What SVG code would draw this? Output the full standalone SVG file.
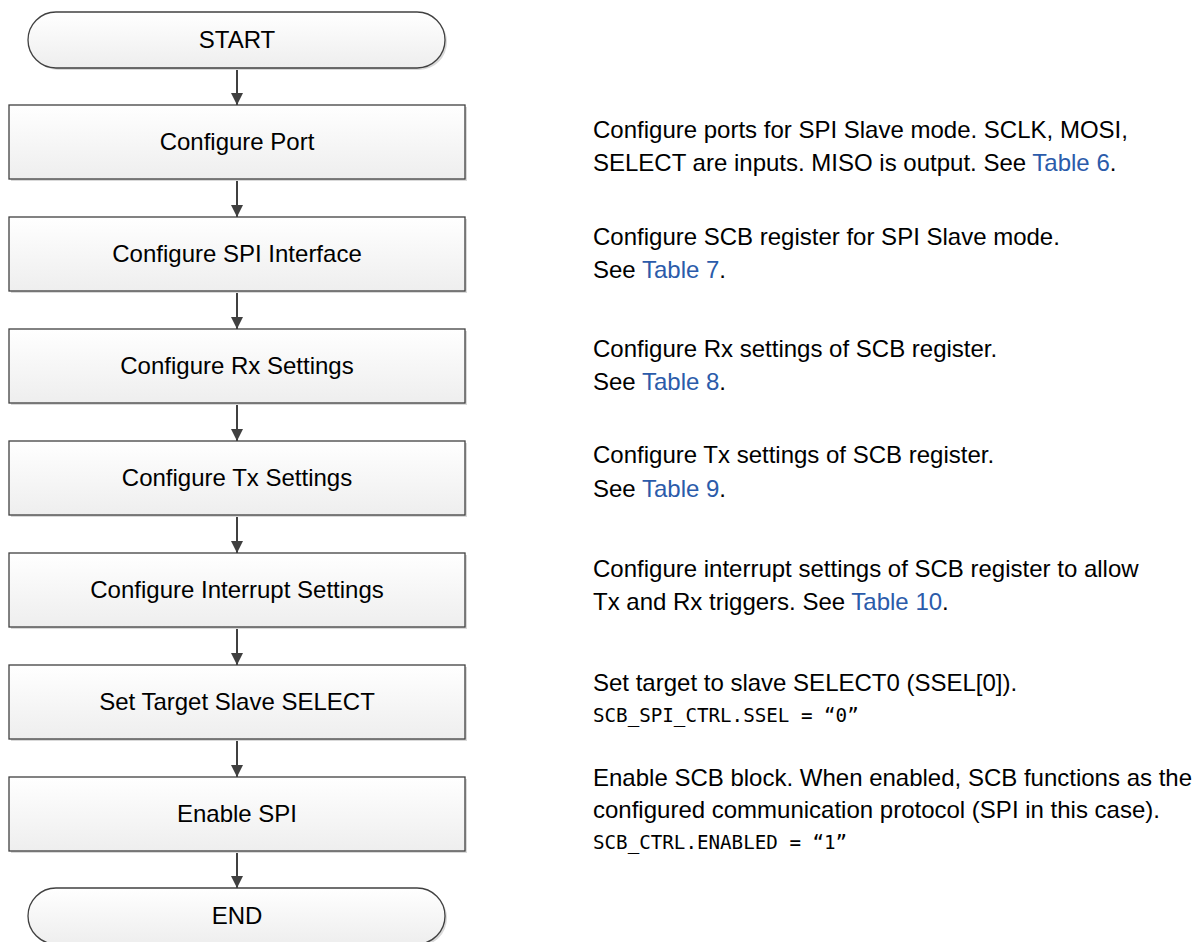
<svg xmlns="http://www.w3.org/2000/svg" width="1197" height="942" viewBox="0 0 1197 942">
  <style>
    .box { fill: url(#boxFill); stroke: #404040; stroke-width: 1.3; }
    .shadow { fill: #d9d9d9; }
    .label { font-family: "Liberation Sans", Arial, sans-serif; font-size: 24px; fill: #000; text-anchor: middle; }
    .note { font-family: "Liberation Sans", Arial, sans-serif; font-size: 24px; fill: #000; }
    .code { font-family: "DejaVu Sans Mono", monospace; font-size: 19.2px; fill: #000; }
    .link { fill: #2B5BAA; }
    .conn { stroke: #404040; stroke-width: 2; fill: none; marker-end: url(#arrow); }
  </style>
  <defs>
    <linearGradient id="boxFill" x1="0" y1="0" x2="0" y2="1">
      <stop offset="0" stop-color="#ffffff"/>
      <stop offset="1" stop-color="#eeeeee"/>
    </linearGradient>
    <marker id="arrow" markerWidth="12" markerHeight="12" refX="10" refY="5" orient="auto" markerUnits="userSpaceOnUse" viewBox="0 0 10 10">
      <path d="M0,0 L10,5 L0,10 Z" fill="#404040"/>
    </marker>
  </defs>
  <rect width="1197" height="942" fill="#ffffff"/>

  <!-- connectors -->
  <g id="connectors">
    <line class="conn" x1="237" y1="68" x2="237" y2="105"/>
    <line class="conn" x1="237" y1="179" x2="237" y2="217"/>
    <line class="conn" x1="237" y1="291" x2="237" y2="329"/>
    <line class="conn" x1="237" y1="403" x2="237" y2="441"/>
    <line class="conn" x1="237" y1="515" x2="237" y2="553"/>
    <line class="conn" x1="237" y1="627" x2="237" y2="665"/>
    <line class="conn" x1="237" y1="739" x2="237" y2="777"/>
    <line class="conn" x1="237" y1="851" x2="237" y2="888"/>
  </g>

  <g id="start">
    <rect class="shadow" x="30" y="14" width="417" height="56" rx="28"/>
    <rect class="box" x="28" y="12" width="417" height="56" rx="28"/>
    <text class="label" x="237" y="48">START</text>
  </g>

  <g id="configure-port">
    <rect class="shadow" x="11" y="107" width="456" height="74"/>
    <rect class="box" x="9" y="105" width="456" height="74"/>
    <text class="label" x="237" y="150">Configure Port</text>
  </g>

  <g id="configure-spi">
    <rect class="shadow" x="11" y="219" width="456" height="74"/>
    <rect class="box" x="9" y="217" width="456" height="74"/>
    <text class="label" x="237" y="262">Configure SPI Interface</text>
  </g>

  <g id="configure-rx">
    <rect class="shadow" x="11" y="331" width="456" height="74"/>
    <rect class="box" x="9" y="329" width="456" height="74"/>
    <text class="label" x="237" y="374">Configure Rx Settings</text>
  </g>

  <g id="configure-tx">
    <rect class="shadow" x="11" y="443" width="456" height="74"/>
    <rect class="box" x="9" y="441" width="456" height="74"/>
    <text class="label" x="237" y="486">Configure Tx Settings</text>
  </g>

  <g id="configure-interrupt">
    <rect class="shadow" x="11" y="555" width="456" height="74"/>
    <rect class="box" x="9" y="553" width="456" height="74"/>
    <text class="label" x="237" y="598">Configure Interrupt Settings</text>
  </g>

  <g id="set-target">
    <rect class="shadow" x="11" y="667" width="456" height="74"/>
    <rect class="box" x="9" y="665" width="456" height="74"/>
    <text class="label" x="237" y="710">Set Target Slave SELECT</text>
  </g>

  <g id="enable-spi">
    <rect class="shadow" x="11" y="779" width="456" height="74"/>
    <rect class="box" x="9" y="777" width="456" height="74"/>
    <text class="label" x="237" y="822">Enable SPI</text>
  </g>

  <g id="end">
    <rect class="shadow" x="30" y="890" width="417" height="56" rx="28"/>
    <rect class="box" x="28" y="888" width="417" height="56" rx="28"/>
    <text class="label" x="237" y="924">END</text>
  </g>

  <!-- step descriptions -->
  <g id="notes">
    <text class="note" x="593" y="138">Configure ports for SPI Slave mode. SCLK, MOSI,</text>
    <text class="note" x="593" y="171">SELECT are inputs. MISO is output. See <tspan class="link">Table 6</tspan>.</text>

    <text class="note" x="593" y="245">Configure SCB register for SPI Slave mode.</text>
    <text class="note" x="593" y="278">See <tspan class="link">Table 7</tspan>.</text>

    <text class="note" x="593" y="357">Configure Rx settings of SCB register.</text>
    <text class="note" x="593" y="390">See <tspan class="link">Table 8</tspan>.</text>

    <text class="note" x="593" y="463">Configure Tx settings of SCB register.</text>
    <text class="note" x="593" y="497">See <tspan class="link">Table 9</tspan>.</text>

    <text class="note" x="593" y="577">Configure interrupt settings of SCB register to allow</text>
    <text class="note" x="593" y="610">Tx and Rx triggers. See <tspan class="link">Table 10</tspan>.</text>

    <text class="note" x="593" y="691">Set target to slave SELECT0 (SSEL[0]).</text>
    <text class="code" x="593" y="722">SCB_SPI_CTRL.SSEL = “0”</text>

    <text class="note" x="593" y="786">Enable SCB block. When enabled, SCB functions as the</text>
    <text class="note" x="593" y="818">configured communication protocol (SPI in this case).</text>
    <text class="code" x="593" y="849">SCB_CTRL.ENABLED = “1”</text>
  </g>
</svg>
